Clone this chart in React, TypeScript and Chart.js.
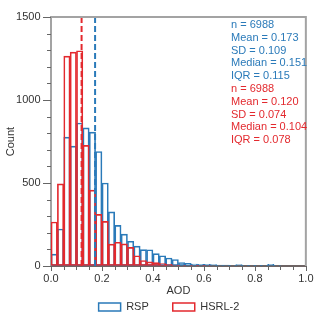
import React, { useEffect, useRef } from 'react';
import { Chart, registerables } from 'chart.js';

Chart.register(...registerables);

const FONT = "'Liberation Sans', Arial, Helvetica, sans-serif";
const BLUE = '#2a7ab9';
const RED = '#e3292e';
const AXIS_GRAY = '#a3a3a3';
const TICK_GRAY = '#666666';
const TEXT = '#333333';

// Histogram bin edges (AOD)
const binEdges = [
  0.0, 0.025, 0.05, 0.075, 0.1, 0.125, 0.15, 0.175, 0.2, 0.225,
  0.25, 0.275, 0.3, 0.325, 0.35, 0.375, 0.4, 0.425, 0.45, 0.475,
  0.5, 0.525, 0.55, 0.575, 0.6, 0.625, 0.65, 0.675, 0.7, 0.725,
  0.75, 0.775, 0.8, 0.825, 0.85, 0.875, 0.9, 0.925, 0.95, 0.975, 1.0,
];

// Counts per bin
const rspCounts = [
  72, 223, 777, 722, 862, 832, 807, 690, 500, 326,
  245, 192, 149, 120, 99, 98, 75, 62, 48, 39,
  21, 16, 12, 10, 10, 8, 6, 6, 4, 8,
  2, 2, 2, 1, 10, 1, 0, 0, 0, 0,
];
const hsrlCounts = [
  265, 495, 1265, 1289, 1297, 727, 457, 311, 269, 132,
  143, 133, 112, 62, 33, 25, 20, 14, 10, 6,
  4, 3, 2, 1, 1, 0, 0, 0, 0, 0,
  0, 0, 0, 0, 0, 0, 0, 0, 0, 0,
];

const seriesNames = ['RSP', 'HSRL-2'];
const statNames = ['n', 'Mean', 'SD', 'Median', 'IQR'];
const rspStats = ['6988', '0.173', '0.109', '0.151', '0.115'];
const hsrlStats = ['6988', '0.120', '0.074', '0.104', '0.078'];
const rspMean = 0.173;
const hsrlMean = 0.12;

const xMin = 0;
const xMax = 1.0;
const xStep = 0.05;
const xLabelStep = 0.2;
const yMin = 0;
const yMax = 1500;
const yStep = 100;
const yLabelStep = 500;

const isMultiple = (v: number, step: number) =>
  Math.abs(v / step - Math.round(v / step)) < 1e-6;

const binCenters = binEdges.slice(0, -1).map((e, i) => (e + binEdges[i + 1]) / 2);

const tickPlugin = {
  id: 'customTicks',
  afterDraw(chart: any) {
    const { ctx, chartArea } = chart;
    const xs = chart.scales.x;
    const ys = chart.scales.y;
    ctx.save();
    ctx.strokeStyle = TICK_GRAY;
    ctx.lineWidth = 1;
    xs.ticks.forEach((t: any) => {
      const px = Math.round(xs.getPixelForValue(t.value)) + 0.5;
      const len = isMultiple(t.value, xLabelStep) ? 5 : 4;
      ctx.beginPath();
      ctx.moveTo(px, chartArea.bottom);
      ctx.lineTo(px, chartArea.bottom + len);
      ctx.stroke();
    });
    ys.ticks.forEach((t: any) => {
      const py = Math.round(ys.getPixelForValue(t.value)) + 0.5;
      const len = isMultiple(t.value, yLabelStep) ? 8 : 4;
      ctx.beginPath();
      ctx.moveTo(chartArea.left - len, py);
      ctx.lineTo(chartArea.left, py);
      ctx.stroke();
    });
    ctx.restore();
  },
};

const framePlugin = {
  id: 'frame',
  afterDatasetsDraw(chart: any) {
    const { ctx, chartArea } = chart;
    ctx.save();
    ctx.strokeStyle = AXIS_GRAY;
    ctx.lineWidth = 2;
    ctx.beginPath();
    ctx.moveTo(chartArea.left, chartArea.top);
    ctx.lineTo(chartArea.right, chartArea.top);
    ctx.lineTo(chartArea.right, chartArea.bottom);
    ctx.stroke();
    ctx.restore();
  },
};

const statsPlugin = {
  id: 'stats',
  afterDraw(chart: any) {
    const { ctx, chartArea } = chart;
    ctx.save();
    ctx.font = `11px ${FONT}`;
    ctx.textAlign = 'left';
    ctx.textBaseline = 'middle';
    const x = chartArea.left + 180;
    const y0 = chartArea.top + 7.8;
    const lh = 12.8;
    const groups = [
      { vals: rspStats, color: BLUE },
      { vals: hsrlStats, color: RED },
    ];
    let row = 0;
    groups.forEach((g) => {
      ctx.fillStyle = g.color;
      statNames.forEach((name, i) => {
        ctx.fillText(`${name} = ${g.vals[i]}`, x, y0 + row * lh);
        row++;
      });
    });
    ctx.restore();
  },
};

const legendShiftPlugin = {
  id: 'legendShift',
  afterLayout(chart: any) {
    const lg = chart.legend;
    if (!lg) return;
    const targetCenter = chart.chartArea.left + 118;
    const dx = targetCenter - (lg.left + lg.right) / 2;
    lg.left += dx;
    lg.right += dx;
    lg.top = chart.chartArea.bottom + 11.5;
    lg.bottom = chart.height;
  },
};

export default function App() {
  const ref = useRef<HTMLCanvasElement | null>(null);

  useEffect(() => {
    if (!ref.current) return;
    Chart.defaults.font.family = FONT;
    const chart = new Chart(ref.current, {
      type: 'bar',
      data: {
        datasets: [
          {
            type: 'bar',
            label: seriesNames[0],
            data: binCenters.map((c, i) => ({ x: c, y: rspCounts[i] })),
            borderColor: BLUE,
            backgroundColor: 'rgba(255,255,255,0)',
            borderWidth: 1,
            borderSkipped: false,
            grouped: false,
            barPercentage: 1,
            categoryPercentage: 1,
            order: 2,
          } as any,
          {
            type: 'bar',
            label: seriesNames[1],
            data: binCenters.map((c, i) => ({ x: c, y: hsrlCounts[i] })),
            borderColor: RED,
            backgroundColor: 'rgba(255,255,255,0)',
            borderWidth: 1,
            borderSkipped: false,
            grouped: false,
            barPercentage: 1,
            categoryPercentage: 1,
            order: 1,
          } as any,
          {
            type: 'line',
            label: 'RSP mean',
            data: [
              { x: rspMean, y: yMax },
              { x: rspMean, y: yMin },
            ],
            borderColor: BLUE,
            borderWidth: 2,
            borderDash: [6, 3],
            pointRadius: 0,
            fill: false,
            order: 0,
          } as any,
          {
            type: 'line',
            label: 'HSRL-2 mean',
            data: [
              { x: hsrlMean, y: yMax },
              { x: hsrlMean, y: yMin },
            ],
            borderColor: RED,
            borderWidth: 2,
            borderDash: [6, 3],
            pointRadius: 0,
            fill: false,
            order: 0,
          } as any,
        ],
      },
      options: {
        responsive: false,
        animation: false,
        events: [],
        layout: { padding: { top: 10.5, right: 13, left: 0, bottom: 0 } },
        scales: {
          x: {
            type: 'linear',
            min: xMin,
            max: xMax,
            offset: false,
            grid: { display: true, drawOnChartArea: false, drawTicks: false },
            border: { display: true, color: '#6e6464', width: 2 },
            ticks: {
              stepSize: xStep,
              autoSkip: false,
              maxRotation: 0,
              padding: 6.5,
              color: TEXT,
              font: { size: 11 },
              callback: (v: any) => (isMultiple(Number(v), xLabelStep) ? Number(v).toFixed(1) : ''),
            },
            title: {
              display: true,
              text: 'AOD',
              color: TEXT,
              font: { size: 11 },
              padding: { top: 2, bottom: 2 },
            },
            afterFit: (scale: any) => {
              scale.height = 34;
            },
          },
          y: {
            type: 'linear',
            min: yMin,
            max: yMax,
            grid: { display: true, drawOnChartArea: false, drawTicks: false },
            border: { display: true, color: AXIS_GRAY, width: 2 },
            ticks: {
              stepSize: yStep,
              autoSkip: false,
              padding: 10.5,
              color: TEXT,
              font: { size: 11 },
              callback: (v: any) => (isMultiple(Number(v), yLabelStep) ? String(v) : ''),
            },
            title: {
              display: true,
              text: 'Count',
              color: TEXT,
              font: { size: 11 },
              padding: { top: 4.4, bottom: 0 },
            },
            afterFit: (scale: any) => {
              scale.width = 51;
            },
          },
        },
        plugins: {
          tooltip: { enabled: false },
          legend: {
            display: true,
            position: 'bottom',
            maxHeight: 17,
            labels: {
              boxWidth: 22,
              boxHeight: 8,
              padding: 24,
              color: TEXT,
              font: { size: 11 },
              generateLabels: (c: any) =>
                Chart.defaults.plugins.legend.labels
                  .generateLabels(c)
                  .filter((it: any) => it.datasetIndex < 2)
                  .sort((a: any, b: any) => a.datasetIndex - b.datasetIndex)
                  .map((it: any) => ({ ...it, lineWidth: 1.5 })),
            },
          } as any,
        },
      } as any,
      plugins: [tickPlugin, framePlugin, statsPlugin, legendShiftPlugin],
    });
    return () => chart.destroy();
  }, []);

  return (
    <div style={{ position: 'absolute', left: 0, top: 0, width: 320, height: 317 }}>
      <canvas ref={ref} width={320} height={317} style={{ display: 'block' }} />
    </div>
  );
}
